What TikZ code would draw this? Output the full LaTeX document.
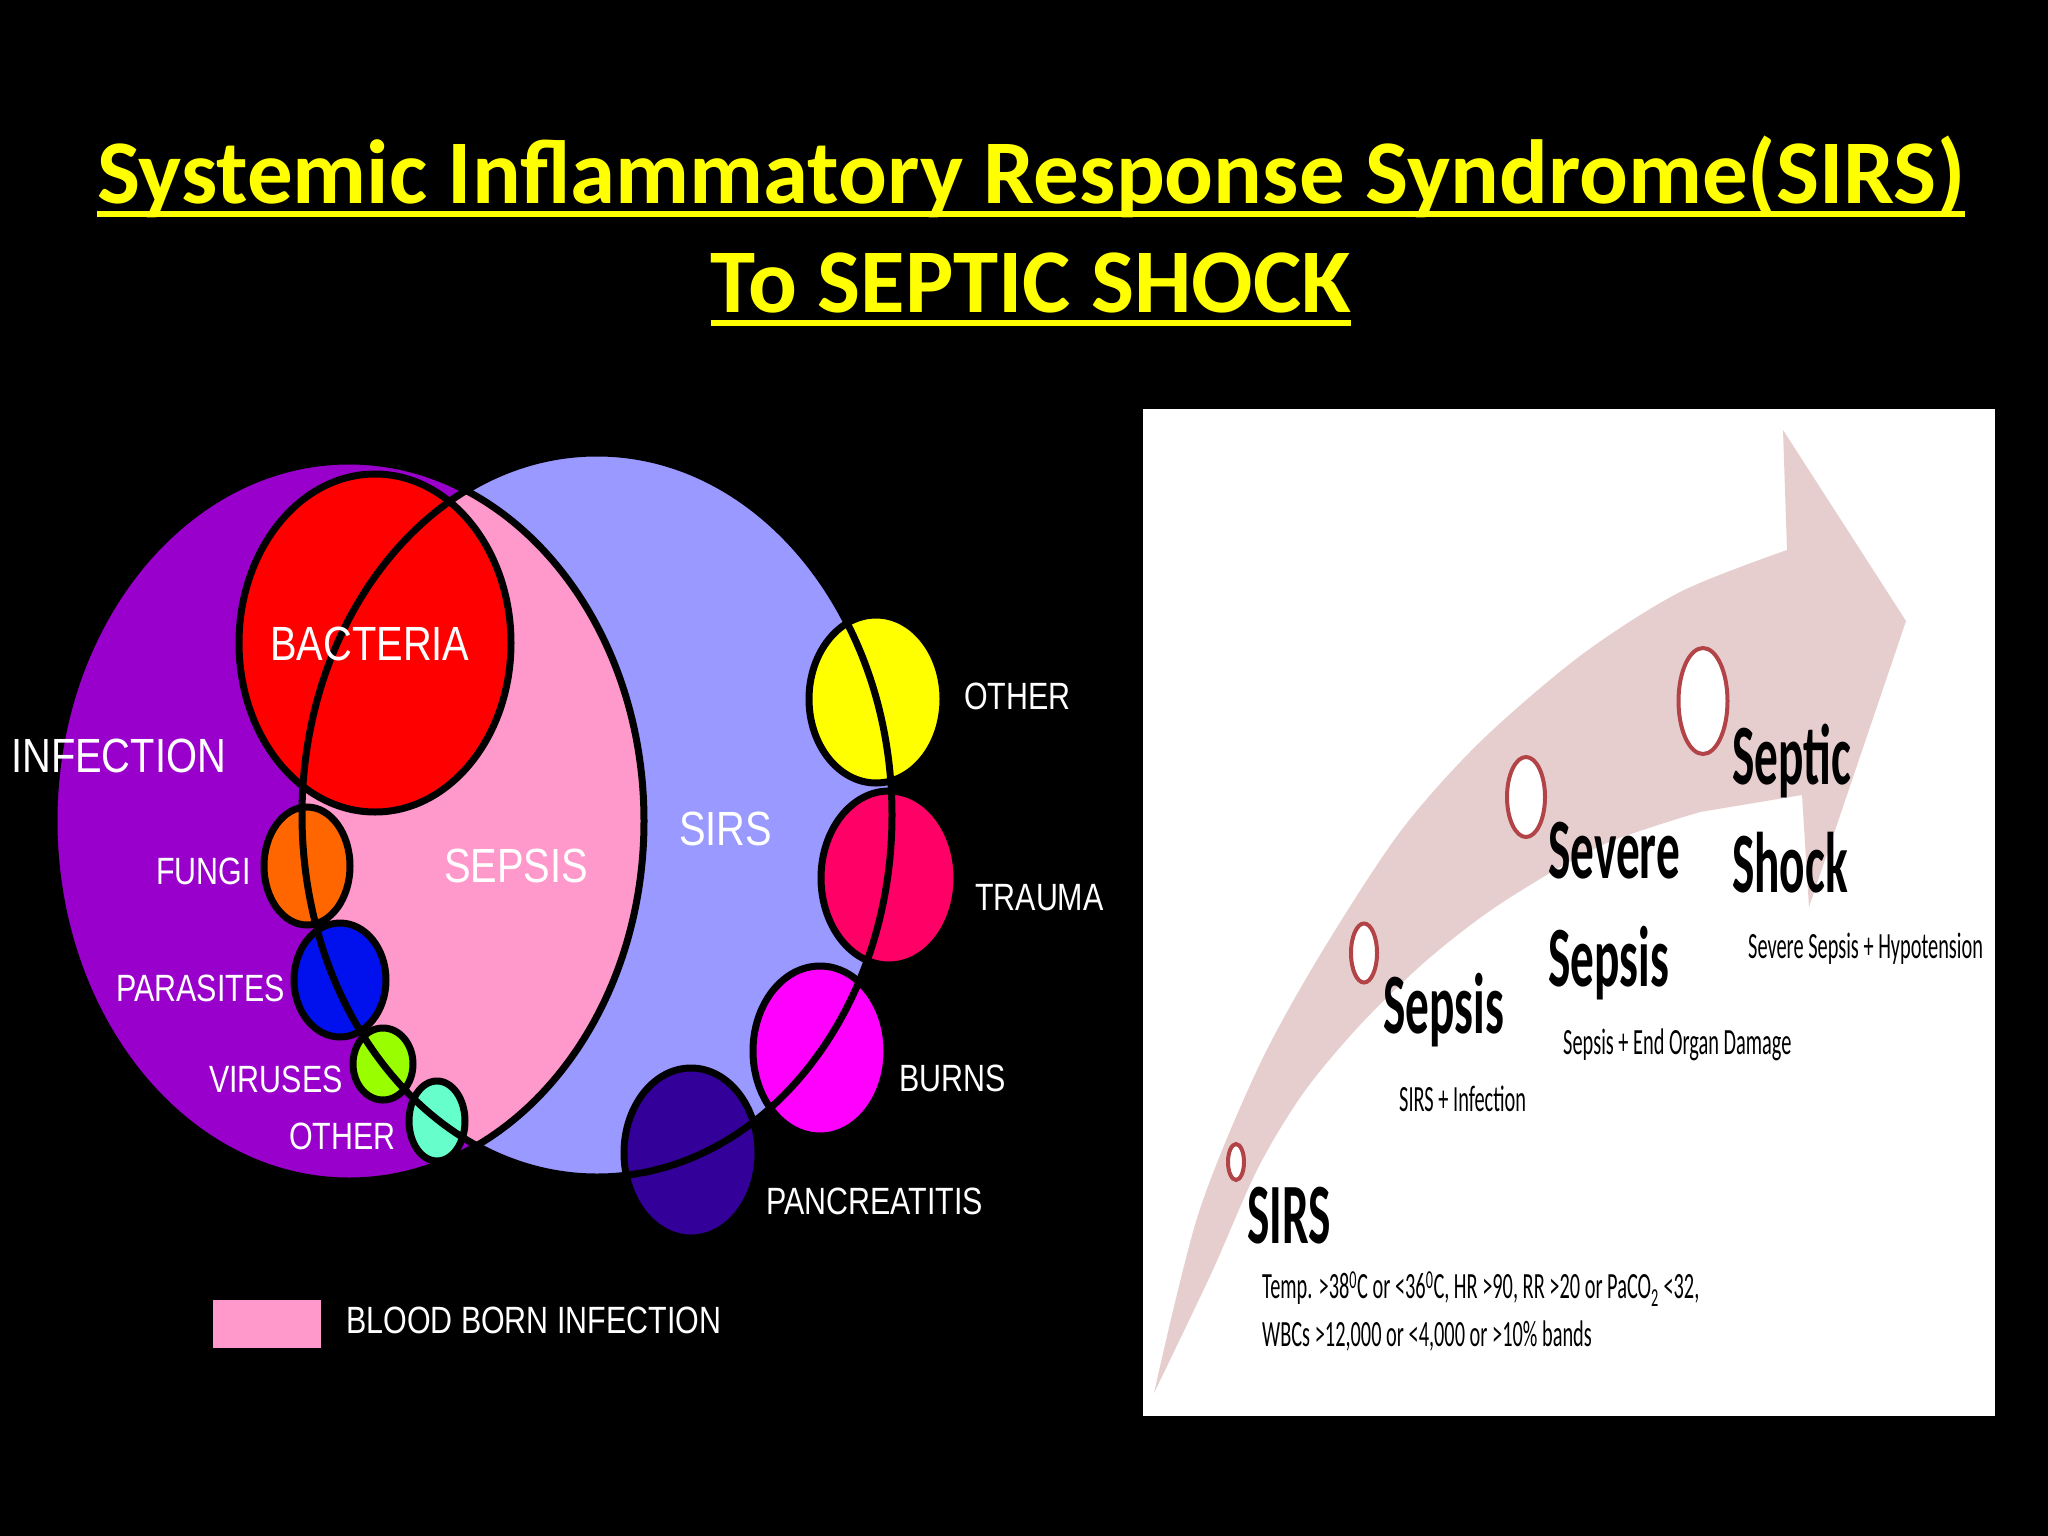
\documentclass[tikz,border=0pt]{standalone}
\usepackage{fontspec}
\setmainfont{Carlito}
\newfontfamily\vennfont[FakeStretch=0.8]{Liberation Sans}
\newfontfamily\vennwidefont[FakeStretch=0.83]{Liberation Sans}
\newfontfamily\stagefont[FakeStretch=0.55]{Carlito}
\usetikzlibrary{shapes.geometric}

\definecolor{infectpurple}{RGB}{153,0,204}
\definecolor{sirsblue}{RGB}{153,153,255}
\definecolor{sepsispink}{RGB}{255,153,204}
\definecolor{fungiorange}{RGB}{255,102,0}
\definecolor{parasiteblue}{RGB}{0,17,238}
\definecolor{viruslime}{RGB}{153,255,0}
\definecolor{otheraqua}{RGB}{102,255,204}
\definecolor{otheryellow}{RGB}{255,255,0}
\definecolor{traumared}{RGB}{255,0,102}
\definecolor{burnsmagenta}{RGB}{255,0,255}
\definecolor{pancindigo}{RGB}{51,0,153}
\definecolor{arrowpink}{RGB}{231,206,206}
\definecolor{ringred}{RGB}{178,68,72}
\definecolor{titleyellow}{RGB}{255,255,0}

\tikzset{
  titletext/.style={text=titleyellow, inner sep=0pt, anchor=base, font=\bfseries\fontsize{91}{91}\selectfont},
  vennbig/.style={text=white, inner sep=0pt, anchor=west, font=\vennwidefont\fontsize{48}{48}\selectfont},
  vennsmall/.style={text=white, inner sep=0pt, anchor=west, font=\vennfont\fontsize{38}{38}\selectfont},
  blob/.style={ellipse, draw=black, line width=7pt, inner sep=0pt},
  ring/.style={ellipse, draw=ringred, line width=4pt, fill=white, inner sep=0pt},
  stagetext/.style={inner sep=0pt, anchor=base west, font=\stagefont\bfseries\fontsize{86}{86}\selectfont},
  notetext/.style={inner sep=0pt, anchor=base west, font=\stagefont\fontsize{37}{37}\selectfont},
}

\begin{document}
\begin{tikzpicture}[x=1pt, y=-1pt]
\fill[black] (0,0) rectangle (2048,1536);

\node[titletext] (titleone) at (1031,203) {Systemic Inflammatory Response Syndrome(SIRS)};
\node[titletext] (titletwo) at (1031,312) {To SEPTIC SHOCK};
\draw[titleyellow, line width=6pt] ([yshift=-11pt]titleone.base west) -- ([yshift=-11pt]titleone.base east);
\draw[titleyellow, line width=6pt] ([yshift=-11pt]titletwo.base west) -- ([yshift=-11pt]titletwo.base east);

\fill[infectpurple] (349,821) ellipse [x radius=295pt, y radius=360pt];
\fill[sirsblue] (597,815) ellipse [x radius=295pt, y radius=362pt];
\begin{scope}
  \clip (349,821) ellipse [x radius=295pt, y radius=360pt];
  \fill[sepsispink] (597,815) ellipse [x radius=295pt, y radius=362pt];
\end{scope}

\foreach \nm/\cx/\cy/\w/\h/\col in {
    bacteria/375/643/272/338/red,
    fungi/307/866/86/118/fungiorange,
    parasites/340/980/92/114/parasiteblue,
    viruses/383/1064/60/72/viruslime,
    otherleft/437/1121/56/80/otheraqua,
    otherright/876/699/134/168/otheryellow,
    trauma/889/878/136/174/traumared,
    burns/820/1051/134/170/burnsmagenta,
    pancreatitis/691/1153/134/170/pancindigo}
  \node[blob, fill=\col, minimum width=\w pt, minimum height=\h pt] (\nm) at (\cx,\cy) {};

\draw[line width=7pt] (349,821) ellipse [x radius=295pt, y radius=360pt];
\draw[line width=7pt] (597,815) ellipse [x radius=295pt, y radius=362pt];

\node[vennbig] (infectionlabel) at (11,756) {INFECTION};
\node[vennbig] (bacterialabel) at (270,644) {BACTERIA};
\node[vennbig] (sepsislabel) at (444,866) {SEPSIS};
\node[vennbig] (sirslabel) at (679,829) {SIRS};
\node[vennsmall] (fungilabel) at (156,871) {FUNGI};
\node[vennsmall] (parasiteslabel) at (116,988) {PARASITES};
\node[vennsmall] (viruseslabel) at (209,1079) {VIRUSES};
\node[vennsmall] (otherleftlabel) at (289,1136) {OTHER};
\node[vennsmall] (otherrightlabel) at (964,696) {OTHER};
\node[vennsmall] (traumalabel) at (975,898) {TRAUMA};
\node[vennsmall] (burnslabel) at (899,1078) {BURNS};
\node[vennsmall] (pancreatitislabel) at (766,1201) {PANCREATITIS};

\node[fill=sepsispink, minimum width=108pt, minimum height=48pt, inner sep=0pt] (legendkey) at (267,1324) {};
\node[vennsmall] (legendlabel) at (346,1320) {BLOOD BORN INFECTION};

\fill[white] (1143,409) rectangle (1995,1416);
\fill[arrowpink] plot[smooth] coordinates {(1154,1393) (1198,1215) (1258,1068) (1320,955) (1400,832) (1480,742) (1580,656) (1680,592) (1787,550)}
  -- (1783,430) -- (1906,621) -- (1809,907) -- (1802,795)
  -- plot[smooth] coordinates {(1700,812) (1600,846) (1500,904) (1427,960) (1360,1025) (1304,1092) (1258,1168) (1211,1274) (1154,1393)} -- cycle;

\node[ring, minimum width=16pt, minimum height=36pt] (sirsring) at (1236,1162) {};
\node[ring, minimum width=26pt, minimum height=59pt] (sepsisring) at (1364,953) {};
\node[ring, minimum width=38pt, minimum height=80pt] (severering) at (1526,797) {};
\node[ring, minimum width=49pt, minimum height=106pt] (septicring) at (1703,701) {};

\node[stagetext] (sirsstage) at (1247,1243) {SIRS};
\node[stagetext] (sepsisstage) at (1383,1033) {Sepsis};
\node[stagetext] (severeone) at (1548,878) {Severe};
\node[stagetext] (severetwo) at (1548,986) {Sepsis};
\node[stagetext] (septicone) at (1732,784) {Septic};
\node[stagetext] (septictwo) at (1732,892) {Shock};

\node[notetext] (sepsisnote) at (1399,1111) {SIRS + Infection};
\node[notetext] (severenote) at (1563,1054) {Sepsis + End Organ Damage};
\node[notetext] (septicnote) at (1748,958) {Severe Sepsis + Hypotension};
\node[notetext] (sirsnoteone) at (1262,1298) {Temp. >38\textsuperscript{0}C or <36\textsuperscript{0}C, HR >90, RR >20 or PaCO\textsubscript{2} <32,};
\node[notetext] (sirsnotetwo) at (1262,1346) {WBCs >12,000 or <4,000 or >10\% bands};
\end{tikzpicture}
\end{document}
